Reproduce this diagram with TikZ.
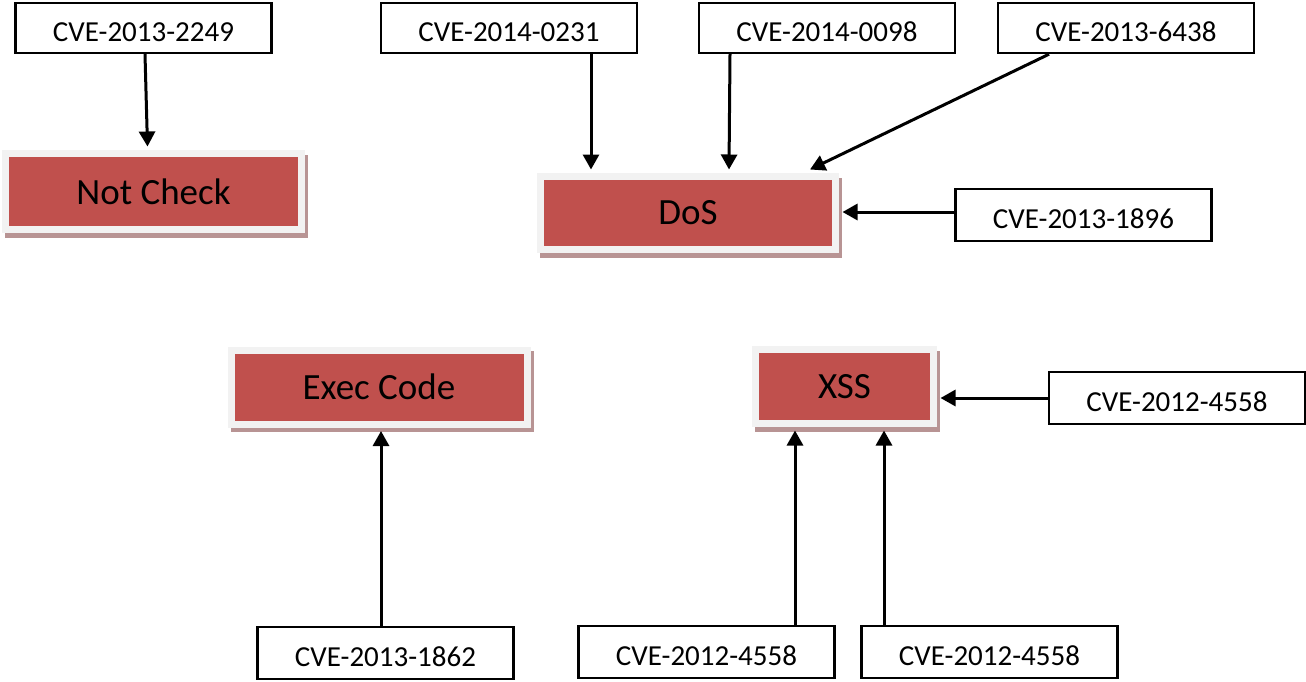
\documentclass[tikz,border=0pt]{standalone}
\usepackage{fontspec}
\setmainfont{Carlito}
\usetikzlibrary{arrows.meta}
\definecolor{boxred}{HTML}{C0504D}
\definecolor{framegrey}{HTML}{F2F2F2}
\definecolor{shadowcol}{HTML}{B89494}
\tikzset{
  cvebox/.style={draw=black, line width=2.4pt, fill=white, minimum width=256pt, minimum height=50pt, inner sep=0pt, text height=26pt, text depth=0pt, font=\fontsize{29}{32}\selectfont},
  redbox/.style={fill=boxred, draw=framegrey, line width=7pt, inner sep=0pt, font=\fontsize{37}{40}\selectfont,
    preaction={fill=shadowcol, draw=shadowcol, line width=7pt, transform canvas={shift={(3pt,-4.5pt)}}}},
  arr/.style={draw=black, line width=3pt, -{Triangle[width=16pt,length=15pt]}}
}
\begin{document}
\begin{tikzpicture}[x=1pt,y=-1pt]
\useasboundingbox (0,0) rectangle (1306,681);
% red boxes
\node[redbox, minimum width=296pt, minimum height=76pt] (nc) at (153.5,191.5) {Not Check};
\node[redbox, minimum width=295pt, minimum height=73pt] (dos) at (688,213) {DoS};
\node[redbox, minimum width=296pt, minimum height=74pt] (exec) at (379,387) {Exec Code};
\node[redbox, minimum width=178pt, minimum height=74pt] (xss) at (844.5,386.5) {XSS};
% CVE boxes
\node[cvebox] (c2249) at (143.5,28) {CVE-2013-2249};
\node[cvebox] (c0231) at (509,28) {CVE-2014-0231};
\node[cvebox] (c0098) at (827,28) {CVE-2014-0098};
\node[cvebox] (c6438) at (1126,28) {CVE-2013-6438};
\node[cvebox, minimum height=52pt] (c1896) at (1083.5,215) {CVE-2013-1896};
\node[cvebox, minimum height=52pt] (c4558r) at (1177,398) {CVE-2012-4558};
\node[cvebox, minimum height=52pt] (c1862) at (385.5,653) {CVE-2013-1862};
\node[cvebox, minimum height=52pt] (c4558a) at (706.5,652) {CVE-2012-4558};
\node[cvebox, minimum height=52pt] (c4558b) at (989.5,652) {CVE-2012-4558};
% connectors
\draw[arr] ([xshift=1.5pt]c2249.south) -- ([xshift=-6pt,yshift=3.5pt]nc.north);
\draw[arr] ([xshift=82pt]c0231.south) -- ([xshift=-97pt,yshift=3.5pt]dos.north);
\draw[arr] ([xshift=-97pt]c0098.south) -- ([xshift=41pt,yshift=3.5pt]dos.north);
\draw[arr] ([xshift=-77pt]c6438.south) -- ([xshift=122pt,yshift=3.5pt]dos.north);
\draw[arr] ([yshift=3pt]c1896.west) -- ([xshift=3.5pt,yshift=1pt]dos.east);
\draw[arr] (c4558r.west) -- ([xshift=3.5pt,yshift=-11.5pt]xss.east);
\draw[arr] ([xshift=-4.5pt]c1862.north) -- ([xshift=2pt,yshift=-3.5pt]exec.south);
\draw[arr] ([xshift=88.5pt]c4558a.north) -- ([xshift=-49.5pt,yshift=-3.5pt]xss.south);
\draw[arr] ([xshift=-105.5pt]c4558b.north) -- ([xshift=39.5pt,yshift=-3.5pt]xss.south);
\end{tikzpicture}
\end{document}
